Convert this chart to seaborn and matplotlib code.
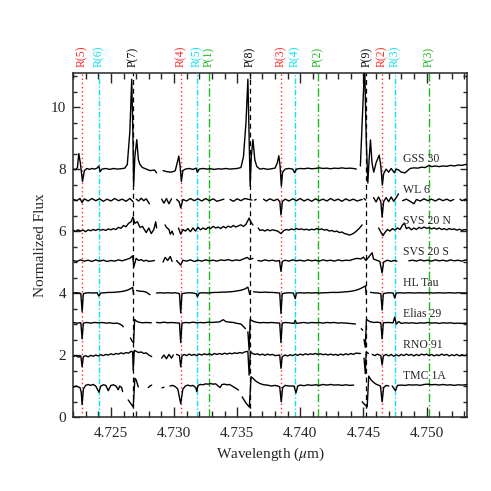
import numpy as np
import pandas as pd
import matplotlib
matplotlib.use("Agg")
import matplotlib.pyplot as plt
from matplotlib.ticker import MultipleLocator, FormatStrFormatter
import seaborn as sns

nan = float("nan")

# line identifications along the top
line_wl = [4.72272, 4.72407, 4.72677, 4.73053, 4.73180, 4.73275, 4.73603,
           4.73847, 4.73960, 4.74143, 4.74524, 4.74648, 4.74748, 4.75018]
line_lab = ["R(5)", "R(6)", "P(7)", "R(4)", "R(5)", "P(1)", "P(8)",
            "R(3)", "R(4)", "P(2)", "P(9)", "R(2)", "R(3)", "P(3)"]
line_kind = ["r", "c", "k", "r", "c", "g", "k", "r", "c", "g", "k", "r", "c", "g"]

names = ["GSS 30", "WL 6", "SVS 20 N", "SVS 20 S", "HL Tau", "Elias 29", "RNO 91", "TMC 1A"]
levels = [8, 7, 6, 5, 4, 3, 2, 1]

# spectra: (wavelength, flux offset from level), nan = gap
gss30 = [(4.7220, 0.00), (4.7222, -0.02), (4.72235, 0.05), (4.72246, 0.50), (4.72258, 0.20),
         (4.72275, -0.40), (4.7229, -0.05), (4.7231, 0.02), (4.7233, -0.01), (4.7235, 0.02),
         (4.7237, 0.00), (4.7239, 0.03), (4.72405, 0.10), (4.72415, -0.08), (4.7243, 0.00),
         (4.7246, 0.02), (4.7249, -0.01), (4.7252, 0.02), (4.7255, 0.00), (4.7258, 0.01),
         (4.7261, 0.03), (4.7263, 0.15), (4.7265, 1.2), (4.72665, 2.9), (4.72675, 1.0),
         (4.72680, -0.55), (4.72690, 0.4), (4.72705, 0.95), (4.72718, 0.3), (4.7273, 0.15),
         (4.7275, 0.05), (4.7278, 0.0), (4.7281, -0.05), (4.72845, -0.03), (4.72862, -0.12),
         (4.7288, nan),
         (4.72913, -0.05), (4.7294, -0.08), (4.7297, -0.10), (4.72995, -0.08), (4.7301, -0.05),
         (4.73025, 0.20), (4.73038, 0.42), (4.73048, 0.10), (4.73058, -0.40), (4.7307, -0.05),
         (4.7309, 0.0), (4.7312, 0.02), (4.7315, -0.01), (4.73175, 0.03), (4.73185, -0.10),
         (4.7320, 0.0), (4.7323, 0.02), (4.7326, 0.0), (4.7329, 0.01), (4.7332, -0.01),
         (4.7335, 0.01), (4.7338, 0.0), (4.7341, 0.02), (4.7344, 0.0), (4.7347, 0.01),
         (4.7350, 0.02), (4.7353, 0.05), (4.7355, 0.4), (4.7357, 1.5), (4.73585, 2.9),
         (4.73595, 1.0), (4.73603, -0.55), (4.73612, 0.4), (4.73625, 0.95), (4.7364, 0.3),
         (4.73656, 0.08), (4.7368, 0.0), (4.7371, 0.02), (4.7374, -0.01), (4.7377, 0.01),
         (4.7380, 0.03), (4.73818, 0.20), (4.73830, 0.43), (4.73840, 0.10), (4.73850, -0.55),
         (4.7386, -0.10), (4.7388, 0.0), (4.7391, 0.02), (4.7394, 0.0), (4.73955, -0.12),
         (4.7397, 0.0), (4.7400, 0.02), (4.7403, 0.01), (4.7406, 0.03), (4.7409, 0.01),
         (4.7412, 0.02), (4.7415, 0.04), (4.7418, 0.02), (4.7421, 0.03), (4.7424, 0.01),
         (4.7427, 0.03), (4.7430, 0.02), (4.7433, 0.04), (4.7436, 0.02), (4.7439, 0.03),
         (4.7442, 0.02), (4.74444, 0.0),
         (4.7446, nan),
         (4.74476, 0.1), (4.7449, 1.5), (4.74510, 3.4), (4.74522, 1.0), (4.74535, -0.45),
         (4.74545, 0.3), (4.74556, 0.94), (4.74568, 0.2), (4.74582, -0.10), (4.74600, 0.20),
         (4.74625, 0.45), (4.74638, 0.10), (4.74650, -0.52), (4.7466, -0.15), (4.7468, 0.0),
         (4.7470, -0.10), (4.7472, 0.02), (4.74745, -0.12), (4.7476, 0.0), (4.7478, -0.03),
         (4.7480, -0.10), (4.7483, -0.12), (4.7485, -0.05), (4.7487, 0.02), (4.7490, 0.04),
         (4.7493, 0.03), (4.7496, 0.06), (4.7499, 0.05), (4.7502, 0.12), (4.7504, 0.08),
         (4.7507, 0.10), (4.7510, 0.08), (4.7513, 0.10), (4.7516, 0.09), (4.7519, 0.12),
         (4.7522, 0.10), (4.7525, 0.13), (4.7528, 0.12), (4.7531, 0.15), (4.7533, 0.14)]

wl6 = [(4.7220, 0.03), (4.7223, -0.02), (4.72255, 0.05), (4.72272, -0.08), (4.7229, 0.04),
       (4.7232, -0.03), (4.7235, 0.05), (4.7238, -0.02), (4.7241, 0.04), (4.7244, -0.04),
       (4.7247, 0.03), (4.7250, -0.03), (4.7253, 0.05), (4.7256, -0.02), (4.7259, 0.03),
       (4.7262, -0.04), (4.7265, 0.05), (4.72675, -0.05),
       (4.72685, nan),
       (4.72700, 0.03), (4.7272, -0.03), (4.7274, 0.06), (4.7276, -0.02), (4.7278, 0.04),
       (4.72805, -0.12),
       (4.7284, nan),
       (4.72902, 0.03), (4.7292, -0.10), (4.7294, 0.05), (4.7296, -0.12), (4.7298, 0.04),
       (4.73005, nan),
       (4.7302, 0.02), (4.7304, -0.05), (4.73053, -0.25), (4.7307, 0.02), (4.7310, -0.03),
       (4.7313, 0.05), (4.7316, -0.02), (4.7319, 0.04), (4.7322, -0.03), (4.7325, 0.05),
       (4.7328, -0.02), (4.7331, 0.04), (4.7334, -0.04), (4.73395, 0.03),
       (4.7341, nan),
       (4.73444, 0.02), (4.7347, -0.04), (4.7350, 0.04), (4.7353, -0.02), (4.7356, 0.05),
       (4.73617, 0.0),
       (4.7363, nan),
       (4.73638, 0.0), (4.73650, 0.02),
       (4.7366, nan),
       (4.73709, 0.03), (4.7373, -0.03), (4.7376, 0.04), (4.7379, -0.02), (4.7382, 0.03),
       (4.73838, -0.05), (4.73847, -0.48), (4.73858, -0.05), (4.7388, 0.03), (4.7391, -0.03),
       (4.7394, 0.04), (4.7397, -0.02), (4.7400, 0.05), (4.7403, -0.03), (4.7406, 0.03),
       (4.7409, -0.04), (4.7412, 0.04), (4.7415, -0.02), (4.7418, 0.03), (4.7421, -0.03),
       (4.7424, 0.05), (4.7427, -0.02), (4.7430, 0.03), (4.7433, -0.04), (4.7436, 0.04),
       (4.7439, -0.02), (4.7442, 0.03), (4.7445, -0.03), (4.74490, 0.02),
       (4.74500, nan),
       (4.74505, 0.05), (4.74518, 0.0),
       (4.7454, nan),
       (4.74580, 0.08), (4.7460, -0.06), (4.7462, 0.10), (4.74638, -0.05), (4.74648, -0.55),
       (4.74660, -0.05), (4.7468, 0.08), (4.7470, -0.05), (4.7472, 0.10), (4.7474, -0.04),
       (4.7476, 0.08), (4.74778, 0.20),
       (4.7480, nan),
       (4.7481, -0.02), (4.7484, 0.03), (4.7487, -0.04), (4.7490, -0.12), (4.7492, 0.02),
       (4.7495, -0.03), (4.7498, 0.04), (4.7501, -0.02), (4.7504, 0.03), (4.7507, -0.03),
       (4.7510, 0.04), (4.7513, -0.02), (4.7516, 0.03), (4.7519, -0.03), (4.75215, 0.02),
       (4.7523, nan),
       (4.75265, 0.03), (4.7528, -0.02), (4.7531, 0.03), (4.7533, 0.0)]

svs20n = [(4.7220, 0.03), (4.7222, -0.01), (4.7224, 0.04), (4.7226, 0.0), (4.7228, 0.03),
          (4.7230, -0.02), (4.7232, 0.04), (4.7234, 0.01), (4.7236, 0.05), (4.7238, 0.02),
          (4.7240, 0.06), (4.7242, 0.03), (4.7244, 0.05), (4.7246, 0.02), (4.7248, 0.07),
          (4.7250, 0.04), (4.7252, 0.08), (4.7254, 0.05), (4.7256, 0.12), (4.7258, 0.09),
          (4.7260, 0.18), (4.7262, 0.14), (4.7264, 0.25), (4.7266, 0.30), (4.72675, 0.45),
          (4.7269, 0.25), (4.7271, 0.30), (4.7273, 0.12), (4.7275, 0.15), (4.72765, 0.05),
          (4.7278, -0.05), (4.7280, 0.10), (4.7282, -0.08), (4.7284, 0.05), (4.72855, 0.30),
          (4.72862, 0.10),
          (4.7289, nan),
          (4.72929, 0.20), (4.7294, 0.12), (4.7296, 0.05), (4.7297, -0.10), (4.72985, 0.0),
          (4.72995, -0.12),
          (4.7301, nan),
          (4.73035, 0.10), (4.73053, -0.10), (4.7307, 0.05), (4.7309, 0.0), (4.7311, 0.08),
          (4.7313, -0.02), (4.7315, 0.10), (4.7317, 0.0), (4.7319, 0.12), (4.7321, 0.04),
          (4.7323, 0.10), (4.7325, 0.05), (4.7327, 0.12), (4.7329, 0.08), (4.7331, 0.15),
          (4.7333, 0.10), (4.7335, 0.13), (4.7337, 0.08), (4.7339, 0.15), (4.7341, 0.10),
          (4.7343, 0.16), (4.7345, 0.12), (4.7347, 0.18), (4.7349, 0.13), (4.7351, 0.17),
          (4.7353, 0.20), (4.7355, 0.15), (4.7357, 0.22), (4.73595, 0.42), (4.7361, 0.28),
          (4.73625, 0.20),
          (4.7364, nan),
          (4.73667, 0.10), (4.7368, 0.02), (4.7370, 0.04), (4.7372, 0.0), (4.7374, 0.05),
          (4.7376, 0.01), (4.7378, 0.04), (4.7380, 0.02), (4.7382, 0.0), (4.73847, -0.08),
          (4.7387, 0.02), (4.7389, 0.05), (4.7391, 0.03), (4.7393, 0.07), (4.7395, 0.04),
          (4.7397, 0.08), (4.7399, 0.05), (4.7401, 0.07), (4.7403, 0.04), (4.7405, 0.06),
          (4.7407, 0.03), (4.7409, 0.06), (4.7411, 0.04), (4.7413, 0.08), (4.7415, 0.05),
          (4.7417, 0.07), (4.7419, 0.03), (4.7421, 0.05), (4.7423, 0.0), (4.7425, 0.02),
          (4.7427, -0.02), (4.7429, 0.0), (4.7431, -0.05), (4.7433, -0.03), (4.7435, -0.08),
          (4.7437, -0.10), (4.7439, -0.13), (4.7441, -0.10), (4.7443, -0.05), (4.7445, 0.02),
          (4.7447, 0.10), (4.7449, 0.20),
          (4.7452, nan),
          (4.74621, 0.10), (4.7464, -0.05), (4.74655, -0.15), (4.7467, -0.05), (4.7469, 0.05),
          (4.7471, 0.0), (4.7473, 0.08), (4.7475, 0.03), (4.7477, 0.10), (4.7479, 0.05),
          (4.7481, 0.20), (4.74825, 0.25), (4.7484, 0.08), (4.7486, 0.12), (4.7488, 0.04),
          (4.7490, 0.10), (4.7492, 0.05), (4.7494, 0.12), (4.7496, 0.08), (4.7498, 0.13),
          (4.7500, 0.09), (4.7502, 0.11), (4.7504, 0.07), (4.7506, 0.10), (4.7508, 0.06),
          (4.7510, 0.10), (4.7512, 0.05), (4.7514, 0.08), (4.7516, 0.04), (4.7518, 0.08),
          (4.7520, 0.05), (4.7522, 0.07), (4.7524, 0.03), (4.7526, 0.06), (4.7528, 0.02),
          (4.7530, 0.05), (4.7533, 0.03)]

svs20s = [(4.7220, 0.05), (4.7223, 0.02), (4.7226, 0.07), (4.7229, 0.03), (4.7232, 0.06),
          (4.7235, 0.02), (4.7238, 0.07), (4.7241, 0.03), (4.7244, 0.06), (4.7247, 0.02),
          (4.7250, 0.05), (4.7253, 0.03), (4.7256, 0.07), (4.7259, 0.04), (4.7262, 0.08),
          (4.7265, 0.12), (4.72672, 0.20), (4.72682, -0.15), (4.7270, 0.12), (4.7272, 0.05),
          (4.7274, 0.08), (4.7276, 0.03), (4.7278, 0.06), (4.7280, 0.02), (4.72845, 0.05),
          (4.7288, nan),
          (4.72913, 0.0), (4.7293, 0.15), (4.7295, 0.05), (4.7297, 0.18), (4.72985, 0.02),
          (4.7300, nan),
          (4.7302, 0.05), (4.73053, -0.10), (4.7307, 0.06), (4.7310, 0.03), (4.7313, 0.07),
          (4.7316, 0.02), (4.7319, 0.06), (4.7322, 0.03), (4.7325, 0.07), (4.7328, 0.04),
          (4.7331, 0.06), (4.7334, 0.03), (4.7337, 0.07), (4.7340, 0.05), (4.7343, 0.08),
          (4.7346, 0.04), (4.7349, 0.07), (4.7352, 0.05), (4.7355, 0.10), (4.7358, 0.15),
          (4.7360, 0.08), (4.73625, 0.12),
          (4.7364, nan),
          (4.73665, 0.05), (4.7369, 0.03), (4.7372, 0.07), (4.7375, 0.04), (4.7378, 0.06),
          (4.7381, 0.03), (4.73835, 0.05), (4.73847, -0.30), (4.73858, 0.02), (4.7388, 0.06),
          (4.7391, 0.03), (4.7394, 0.07), (4.7397, 0.04), (4.7400, 0.06), (4.7403, 0.03),
          (4.7406, 0.07), (4.7409, 0.04), (4.7412, 0.06), (4.7415, 0.03), (4.7418, 0.07),
          (4.7421, 0.04), (4.7424, 0.06), (4.7427, 0.03), (4.7430, 0.07), (4.7433, 0.04),
          (4.7436, 0.06), (4.7439, 0.05), (4.7442, 0.09), (4.7445, 0.12), (4.7448, 0.10),
          (4.7450, 0.16), (4.7452, 0.05), (4.7454, 0.15), (4.74569, 0.30), (4.7458, 0.10),
          (4.7461, 0.05), (4.7463, 0.02), (4.74648, -0.35), (4.7466, 0.0), (4.7469, 0.06),
          (4.7472, 0.02), (4.7474, 0.05), (4.74765, 0.03),
          (4.7478, nan),
          (4.74860, 0.04), (4.7489, 0.06), (4.7492, 0.03), (4.7495, 0.07), (4.7498, 0.04),
          (4.7501, 0.06), (4.7504, 0.03), (4.7507, 0.07), (4.7510, 0.04), (4.7513, 0.06),
          (4.7516, 0.03), (4.7519, 0.07), (4.7522, 0.04), (4.7525, 0.06), (4.7528, 0.03),
          (4.7531, 0.07), (4.7533, 0.05)]

hltau = [(4.7220, 0.0), (4.7223, 0.01), (4.7225, 0.0), (4.72262, -0.02), (4.72272, -0.60),
         (4.72282, -0.02), (4.7230, 0.0), (4.7233, 0.01), (4.7236, 0.0), (4.7239, 0.01),
         (4.72405, -0.10), (4.7242, 0.0), (4.7245, 0.01), (4.7248, 0.02), (4.7251, 0.02),
         (4.7254, 0.03), (4.7257, 0.04), (4.7260, 0.06), (4.7263, 0.09), (4.72655, 0.14),
         (4.72672, 0.18), (4.72680, -0.05),
         (4.7269, nan),
         (4.72704, 0.08), (4.7273, 0.06), (4.7276, 0.05), (4.7278, 0.03), (4.7280, -0.03),
         (4.72810, -0.05),
         (4.7283, nan),
         (4.72862, 0.0), (4.7289, 0.01), (4.7292, 0.0), (4.7295, 0.01), (4.7298, 0.0),
         (4.7301, 0.01), (4.73043, -0.02), (4.73053, -0.64), (4.73063, -0.02), (4.7309, 0.0),
         (4.7312, 0.01), (4.7315, 0.0), (4.73175, -0.02), (4.73185, -0.12), (4.7320, 0.0),
         (4.7323, 0.01), (4.7326, 0.0), (4.7329, 0.01), (4.7332, 0.02), (4.7335, 0.02),
         (4.7338, 0.03), (4.7341, 0.03), (4.7344, 0.04), (4.7347, 0.05), (4.7350, 0.07),
         (4.7353, 0.09), (4.7356, 0.13), (4.73585, 0.19), (4.73600, -0.05),
         (4.7361, nan),
         (4.7363, 0.04), (4.7366, 0.03), (4.7369, 0.02), (4.7372, 0.03), (4.7375, 0.02),
         (4.7378, 0.02), (4.7381, 0.01), (4.73837, 0.0), (4.73847, -0.66), (4.73857, -0.02),
         (4.7388, 0.0), (4.7391, 0.01), (4.73945, 0.0), (4.73960, -0.18), (4.7397, 0.0),
         (4.7400, 0.01), (4.7403, 0.0), (4.7406, 0.01), (4.7409, 0.0), (4.7412, 0.01),
         (4.7415, 0.0), (4.7418, 0.01), (4.7421, 0.01), (4.7424, 0.02), (4.7427, 0.02),
         (4.7430, 0.02), (4.7433, 0.03), (4.7436, 0.04), (4.7439, 0.05), (4.7442, 0.07),
         (4.7445, 0.10), (4.7448, 0.15), (4.74516, 0.23), (4.74522, -0.05),
         (4.7454, nan),
         (4.74556, 0.02), (4.7458, 0.01), (4.7461, 0.0), (4.74638, -0.02), (4.74648, -0.55),
         (4.74658, -0.02), (4.7468, 0.0), (4.7471, 0.01), (4.74735, 0.0), (4.74748, -0.16),
         (4.7476, 0.0), (4.7479, 0.01), (4.7482, 0.0), (4.7486, 0.01), (4.7490, 0.0),
         (4.7494, 0.01), (4.7498, 0.0), (4.7502, 0.01), (4.7506, 0.0), (4.7510, 0.01),
         (4.7514, 0.0), (4.7518, 0.01), (4.7522, 0.0), (4.7526, 0.01), (4.7530, 0.0),
         (4.7533, 0.01)]

elias29 = [(4.7220, 0.05), (4.7223, 0.03), (4.72262, 0.04), (4.72272, -0.48), (4.72282, 0.03),
           (4.7231, 0.05), (4.7234, 0.03), (4.7237, 0.05), (4.7240, 0.04), (4.7243, 0.05),
           (4.7246, 0.03), (4.7249, 0.04), (4.7252, 0.02), (4.7255, 0.03), (4.7257, 0.0),
           (4.7259, -0.05), (4.72598, -0.09),
           (4.7262, nan),
           (4.72655, -0.45), (4.72668, -0.55), (4.72680, -0.60), (4.72688, 0.15), (4.7270, 0.10),
           (4.7272, 0.06), (4.7275, 0.04), (4.7278, 0.05), (4.7282, 0.04),
           (4.7284, nan),
           (4.72862, 0.05), (4.7289, 0.04), (4.7292, 0.06), (4.7295, 0.04), (4.7298, 0.05),
           (4.7301, 0.04), (4.73043, 0.03), (4.73053, -0.60), (4.73063, 0.03), (4.7309, 0.05),
           (4.7312, 0.04), (4.7315, 0.06), (4.7318, 0.04), (4.7321, 0.05), (4.7324, 0.04),
           (4.7327, 0.06), (4.7330, 0.05), (4.7333, 0.06), (4.7336, 0.07), (4.7339, 0.14),
           (4.7341, 0.08), (4.7344, 0.06), (4.7347, 0.05), (4.7350, 0.02), (4.7353, 0.0),
           (4.7355, -0.08), (4.73565, -0.15),
           (4.7357, nan),
           (4.73585, -0.25), (4.73595, -0.85), (4.73603, 0.15), (4.7362, 0.10), (4.7365, 0.06),
           (4.7368, 0.04), (4.7371, 0.05), (4.7374, 0.04), (4.7377, 0.05), (4.7380, 0.04),
           (4.73837, 0.03), (4.73847, -0.60), (4.73857, 0.03), (4.7388, 0.05), (4.7391, 0.04),
           (4.73950, 0.02), (4.73960, 0.12), (4.7397, 0.02), (4.7400, 0.04), (4.7403, 0.05),
           (4.7406, 0.03), (4.7409, 0.05), (4.7412, 0.04), (4.7415, 0.05), (4.7418, 0.03),
           (4.7421, 0.05), (4.7424, 0.04), (4.7427, 0.05), (4.7430, 0.03), (4.7433, 0.04),
           (4.7436, 0.03), (4.7439, 0.02), (4.74437, 0.0),
           (4.7446, nan),
           (4.74483, -0.15), (4.74495, -0.20),
           (4.7450, nan),
           (4.74505, -0.50), (4.74515, -0.75), (4.74524, 0.15), (4.7455, 0.08), (4.7458, 0.05),
           (4.7461, 0.06), (4.74638, 0.04), (4.74648, -0.48), (4.74658, 0.04), (4.7469, 0.05),
           (4.74735, 0.04), (4.74748, 0.22), (4.7476, 0.0), (4.7478, 0.08), (4.7480, 0.02),
           (4.7483, 0.04), (4.7486, 0.03), (4.7489, 0.04), (4.7492, 0.02), (4.7495, 0.04),
           (4.7498, 0.03), (4.7501, 0.05), (4.7504, 0.03), (4.7507, 0.04), (4.7510, 0.02),
           (4.7513, 0.04), (4.7516, 0.03), (4.7519, 0.04), (4.7522, 0.02), (4.7525, 0.03),
           (4.7528, 0.02), (4.7531, 0.03), (4.7533, 0.02)]

rno91 = [(4.7220, -0.05), (4.7222, -0.02), (4.72245, -0.07), (4.72262, -0.03), (4.72272, -0.38),
         (4.72282, -0.05), (4.7230, -0.02), (4.7232, -0.06), (4.7234, -0.01), (4.7236, -0.04),
         (4.7238, 0.0), (4.7240, -0.03), (4.7242, 0.01), (4.7244, -0.02), (4.7246, 0.02),
         (4.7248, 0.0), (4.7250, 0.04), (4.7252, 0.01), (4.7254, 0.05), (4.7256, 0.03),
         (4.7258, 0.07), (4.7260, 0.04), (4.7262, 0.08), (4.7264, 0.06), (4.7266, 0.12),
         (4.72672, 0.10), (4.72677, -0.50), (4.72685, 0.15), (4.7270, 0.12), (4.7272, 0.08),
         (4.7274, 0.10), (4.7276, 0.05), (4.7278, 0.07), (4.7280, 0.0), (4.72823, -0.05),
         (4.7285, nan),
         (4.72902, -0.10), (4.7292, 0.0), (4.7294, -0.12), (4.7296, 0.02), (4.7298, -0.10),
         (4.72994, 0.0),
         (4.7301, nan),
         (4.7302, 0.02), (4.73043, -0.02), (4.73053, -0.38), (4.73063, -0.03), (4.7308, 0.02),
         (4.7310, -0.02), (4.7312, 0.03), (4.7314, -0.01), (4.7316, 0.02), (4.7318, -0.02),
         (4.7320, 0.03), (4.7322, 0.0), (4.7324, 0.04), (4.7326, 0.01), (4.7328, 0.04),
         (4.7330, 0.0), (4.7332, 0.05), (4.7334, 0.02), (4.7336, 0.05), (4.7338, 0.02),
         (4.7340, 0.06), (4.7342, 0.03), (4.7344, 0.06), (4.7346, 0.04), (4.7348, 0.07),
         (4.7350, 0.05), (4.7352, 0.08), (4.7354, 0.06), (4.7356, 0.10), (4.73585, 0.12),
         (4.73595, -0.65), (4.73605, 0.12), (4.7362, 0.05), (4.7364, 0.02), (4.7366, 0.04),
         (4.7368, 0.0), (4.7370, 0.03), (4.7372, -0.01), (4.7374, 0.03), (4.7376, 0.0),
         (4.7378, 0.02), (4.7380, -0.02), (4.73837, 0.0), (4.73847, -0.43), (4.73857, -0.05),
         (4.7388, 0.0), (4.7390, -0.03), (4.7392, 0.01), (4.7394, -0.02), (4.7396, 0.02),
         (4.7398, -0.01), (4.7400, 0.03), (4.7402, 0.0), (4.7404, 0.04), (4.7406, 0.01),
         (4.7408, 0.04), (4.7410, 0.02), (4.7412, 0.05), (4.7414, 0.02), (4.7416, 0.04),
         (4.7418, 0.01), (4.7420, 0.03), (4.7422, 0.0), (4.7424, 0.03), (4.7426, 0.0),
         (4.7428, 0.02), (4.7430, -0.01), (4.7432, 0.03), (4.7434, 0.0), (4.7436, 0.04),
         (4.7438, 0.01), (4.7440, 0.05), (4.7442, 0.02), (4.7444, 0.06), (4.74476, 0.05),
         (4.7449, nan),
         (4.74505, -0.10), (4.74515, -0.60), (4.74522, 0.10), (4.7454, 0.05),
         (4.74555, nan),
         (4.7457, 0.02), (4.7459, -0.02), (4.7461, 0.03), (4.74638, -0.02), (4.74648, -0.32),
         (4.74658, -0.03), (4.7468, 0.02), (4.7470, -0.03), (4.7472, 0.02), (4.7474, -0.04),
         (4.7476, 0.01), (4.7478, -0.03), (4.7480, 0.02), (4.7482, -0.02), (4.7484, 0.03),
         (4.7486, -0.01), (4.7488, 0.02), (4.7490, -0.03), (4.7492, 0.02), (4.7494, -0.02),
         (4.7496, 0.03), (4.7498, 0.0), (4.7500, 0.03), (4.7502, -0.02), (4.7504, 0.02),
         (4.7506, -0.03), (4.7508, 0.01), (4.7510, -0.02), (4.7512, 0.03), (4.7514, -0.01),
         (4.7516, 0.02), (4.7518, -0.03), (4.7520, 0.01), (4.7522, -0.02), (4.7524, 0.02),
         (4.7526, -0.03), (4.7528, 0.01), (4.7530, -0.02), (4.7533, 0.01)]

tmc1a = [(4.7220, -0.04), (4.72225, 0.0), (4.72255, -0.05), (4.72265, -0.20), (4.72272, -0.60),
         (4.72282, -0.10), (4.7230, 0.02), (4.7232, 0.05), (4.7234, 0.02), (4.7236, 0.05),
         (4.7238, 0.0), (4.72405, -0.20), (4.7242, 0.0), (4.7244, 0.04), (4.7246, 0.02),
         (4.72479, -0.15), (4.7250, 0.02), (4.7252, 0.04), (4.7254, 0.0), (4.72558, -0.12),
         (4.7257, 0.0), (4.72585, -0.05), (4.72593, -0.18),
         (4.7262, nan),
         (4.72637, -0.45), (4.72655, -0.55), (4.72677, -0.68), (4.72690, 0.25), (4.72700, 0.20),
         (4.72717, -0.03),
         (4.7274, nan),
         (4.72796, -0.05), (4.7281, 0.0), (4.72823, 0.03),
         (4.7285, nan),
         (4.72905, -0.06), (4.72920, -0.04),
         (4.7294, nan),
         (4.72968, 0.0), (4.7299, 0.02), (4.7301, -0.02), (4.73030, -0.10), (4.73053, -0.57),
         (4.7307, -0.10), (4.7309, 0.0), (4.7311, 0.03), (4.7313, 0.0), (4.7315, 0.02),
         (4.73172, -0.05), (4.73180, -0.18), (4.7319, 0.02), (4.7321, 0.05), (4.7323, 0.04),
         (4.7325, 0.07), (4.7327, 0.06), (4.7329, 0.08), (4.7331, 0.06), (4.7333, 0.07),
         (4.73365, -0.05), (4.7338, 0.05), (4.7340, 0.06), (4.7342, 0.04), (4.7344, 0.05),
         (4.7346, 0.0), (4.7348, -0.05), (4.7350, -0.10), (4.7351, -0.13),
         (4.7352, nan),
         (4.73540, -0.35), (4.73570, -0.55), (4.73597, -0.68), (4.73610, 0.30), (4.73625, 0.25),
         (4.7365, 0.15), (4.7368, 0.08), (4.7371, 0.04), (4.7374, 0.03), (4.7377, 0.0),
         (4.7380, 0.02), (4.73837, -0.02), (4.73849, -0.51), (4.73860, -0.05), (4.7388, 0.02),
         (4.7391, 0.0), (4.73950, 0.0), (4.73966, -0.22), (4.7398, 0.0), (4.7400, 0.03),
         (4.7403, 0.01), (4.7406, 0.04), (4.7409, 0.02), (4.7412, 0.04), (4.7415, 0.02),
         (4.7418, 0.05), (4.7421, 0.03), (4.7424, 0.05), (4.7427, 0.03), (4.7430, 0.04),
         (4.7433, 0.02), (4.7436, 0.04), (4.7439, 0.02), (4.74423, 0.03),
         (4.7445, nan),
         (4.74490, -0.51), (4.74510, -0.60), (4.74530, -0.67), (4.74542, 0.32), (4.7456, 0.20),
         (4.7458, 0.12), (4.7460, 0.06), (4.74635, 0.0), (4.74648, -0.51), (4.7466, -0.05),
         (4.7468, 0.02), (4.74701, 0.0),
         (4.7471, nan),
         (4.74728, 0.0), (4.74754, -0.15), (4.7477, 0.02), (4.7480, 0.03), (4.7483, 0.02),
         (4.7486, 0.04), (4.7489, 0.03), (4.7492, 0.04), (4.7495, 0.02), (4.7498, 0.05),
         (4.7501, 0.06), (4.7504, 0.04), (4.7507, 0.05), (4.7510, 0.03), (4.7513, 0.05),
         (4.7516, 0.03), (4.7519, 0.04), (4.7522, 0.02), (4.7525, 0.04), (4.7528, 0.03),
         (4.7531, 0.04), (4.7533, 0.03)]

spectra = [gss30, wl6, svs20n, svs20s, hltau, elias29, rno91, tmc1a]

# long table, one "seg" id per unbroken stretch so gaps stay open
rows = []
seg = 0
for name, lev, spec in zip(names, levels, spectra):
    seg += 1
    for w, d in spec:
        if np.isnan(d):
            seg += 1
            continue
        rows.append((name, seg, w, lev + d))
df = pd.DataFrame(rows, columns=["star", "seg", "wl", "flux"])

sns.set_style("ticks")
plt.rcParams["font.family"] = ["Liberation Serif", "DejaVu Serif"]
plt.rcParams["mathtext.fontset"] = "stix"

fig = plt.figure(figsize=(4.91, 4.91), dpi=100)
ax = fig.add_axes([0.1487, 0.1507, 0.8023, 0.7006])

styles = {"r": dict(color="#ff2a2a", ls=(0, (1, 2)), lw=1.0),
          "c": dict(color="#10e0f0", ls=(0, (4, 1.5, 1, 1.5)), lw=1.0),
          "g": dict(color="#22b522", ls=(0, (6, 2, 1, 2)), lw=1.0),
          "k": dict(color="black", ls=(0, (4, 3)), lw=0.9)}
for w, lab, k in zip(line_wl, line_lab, line_kind):
    ax.axvline(w, zorder=1, **styles[k])
    ax.text(w, 1.018, lab, transform=ax.get_xaxis_transform(), rotation=90,
            ha="center", va="bottom", fontsize=8.5, color=styles[k]["color"])

sns.lineplot(data=df, x="wl", y="flux", units="seg", estimator=None, sort=False,
             color="black", lw=1.0, ax=ax, zorder=3)

for name, lev in zip(names, levels):
    ax.text(4.74817, lev + 0.33, name, fontsize=8.5, ha="left", va="center")

ax.set_xlim(4.7220, 4.7532)
ax.set_ylim(0, 11.1)
ax.xaxis.set_major_locator(MultipleLocator(0.005))
ax.xaxis.set_minor_locator(MultipleLocator(0.001))
ax.xaxis.set_major_formatter(FormatStrFormatter("%.3f"))
ax.yaxis.set_major_locator(MultipleLocator(2))
ax.yaxis.set_minor_locator(MultipleLocator(0.5))
ax.tick_params(which="both", direction="in", top=True, right=True, labelsize=11, width=1.0)
ax.tick_params(axis="x", which="major", length=7, pad=7)
ax.tick_params(axis="x", which="minor", length=4)
ax.tick_params(axis="y", which="major", length=5, pad=5)
ax.tick_params(axis="y", which="minor", length=3)
for s in ax.spines.values():
    s.set_linewidth(1.1)

ax.set_xlabel(r"Wavelength ($\mu$m)", fontsize=11, labelpad=4)
ax.set_ylabel("Normalized Flux", fontsize=11, labelpad=3)

fig.savefig("out.png", dpi=100)
